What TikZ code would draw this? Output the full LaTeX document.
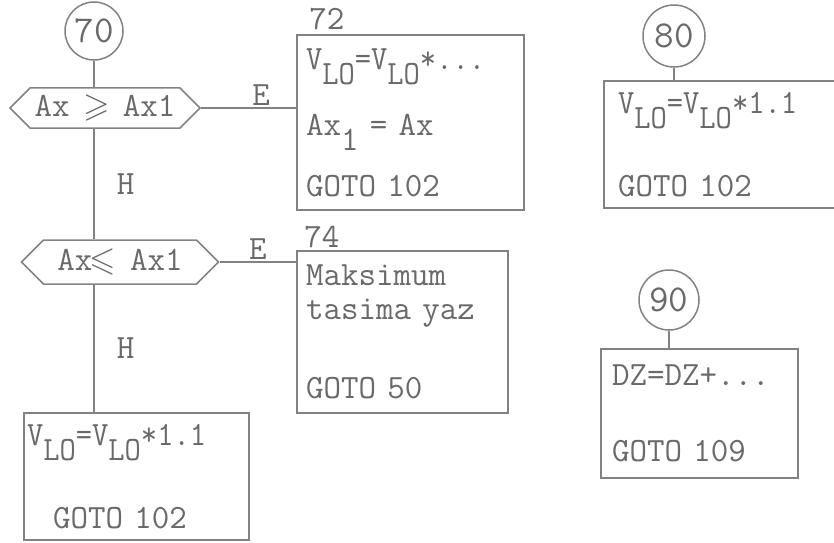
\documentclass[tikz,border=0pt]{standalone}
\usepackage{amssymb}
\usepackage{graphicx}
\usetikzlibrary{
  positioning,
  shapes.symbols
}
\definecolor{ink}{RGB}{105,105,105}
\definecolor{rule}{RGB}{130,130,130}
\newcommand{\lowr}[1]{\raisebox{-15pt}[0pt][0pt]{#1}}
\newcommand{\vlo}[1]{\scalebox{0.93}[1]{V\lowr{LO}=V\lowr{LO}#1}}
\newcommand{\gesym}{\makebox[18pt]{$\geqslant$}}
\newcommand{\lesym}{\makebox[20pt]{$\leqslant$}}

\begin{document}
\begin{tikzpicture}[x=1pt,y=1pt,
  font=\fontsize{34}{34}\selectfont\ttfamily, text=ink,
  conn/.style={circle, draw=rule, line width=1.5pt, inner sep=0pt,
    font=\fontsize{38}{38}\selectfont\ttfamily},
  test/.style={signal, signal to=east and west, draw=rule, line width=1.5pt,
    inner xsep=4pt, inner ysep=0pt},
  stmt/.style={rectangle, draw=rule, line width=1.5pt, align=left,
    inner xsep=9pt, inner ysep=0pt},
  flow/.style={draw=rule, line width=1.5pt},
  lbl/.style={inner sep=2pt}]

  \useasboundingbox (0,0) rectangle (834,542);

  % left column
  \node[conn, minimum size=58pt] (c70) at (94,511) {70};
  \node[test, minimum width=190pt, minimum height=40pt] (t1) at (105,434)
    {Ax \gesym{} Ax1};
  \node[test, minimum width=197pt, minimum height=44pt] (t2) at (120,280)
    {Ax\lesym{} Ax1};
  \node[stmt, inner xsep=3pt, text width=219pt, minimum height=127pt] (lo)
    at (136.5,65.5) {\vlo{*1.1}\\[49pt]\hspace*{26pt}GOTO 102};

  % middle column
  \node[stmt, text width=209pt, minimum height=175pt] (b72) at (410.5,419.5)
    {\vlo{*...}\\[32pt]Ax\lowr{1} = Ax\\[27pt]GOTO 102};
  \node[stmt, text width=193pt, minimum height=162pt] (b74) at (402.5,210)
    {Maksimum\\tasima yaz\\[45pt]GOTO 50};
  \node[lbl, anchor=base west] (n72) at ([xshift=11pt,yshift=5pt]b72.north west) {72};
  \node[lbl, anchor=base west] (n74) at ([xshift=6pt,yshift=3pt]b74.north west) {74};

  % right column
  \node[conn, minimum size=62pt] (c80) at (674,506) {80};
  \node[stmt, inner xsep=14pt, text width=232pt, minimum height=127pt] (b80)
    at (734,397.5) {\vlo{*1.1}\\[49pt]GOTO 102};
  \node[conn, minimum size=60pt] (c90) at (669,242) {90};
  \node[stmt, inner xsep=11pt, text width=175pt, minimum height=129pt] (b90)
    at (699.5,128.5) {DZ=DZ+...\\[42pt]GOTO 109};

  % connectors
  \draw[flow] (c70.south) -- (c70.south |- t1.north);
  \draw[flow] (t1.south -| c70.south) -- node[lbl, right=20pt] {H}
    (t2.north -| c70.south);
  \draw[flow] (t2.south -| c70.south) -- node[lbl, right=20pt] {H}
    (lo.north -| c70.south);
  \draw[flow] (t1.east) -- node[lbl, above, pos=0.63] {E} (t1.east -| b72.west);
  \draw[flow] (t2.east) -- node[lbl, above, pos=0.5] {E} (t2.east -| b74.west);
  \draw[flow] (c80.south) -- (c80.south |- b80.north);
  \draw[flow] (c90.south) -- (c90.south |- b90.north);

\end{tikzpicture}
\end{document}
